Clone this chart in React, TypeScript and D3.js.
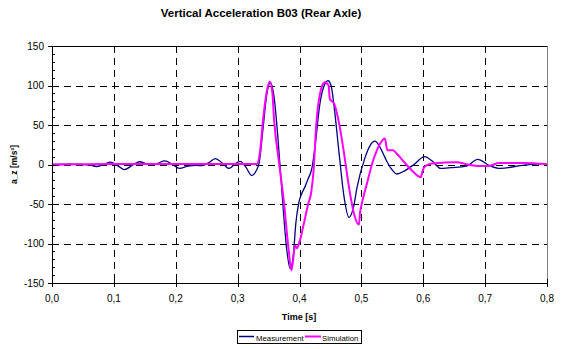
import React from "react";
import * as d3 from "d3";

const W = 575;
const H = 349;

const xTicks = [0, 0.1, 0.2, 0.3, 0.4, 0.5, 0.6, 0.7, 0.8];
const yTicks = [-150, -100, -50, 0, 50, 100, 150];
const yMinorTicks = d3.range(-150, 151, 10);

const measT = [0, 0.03, 0.05, 0.06, 0.072, 0.083, 0.095, 0.107, 0.117, 0.13, 0.142, 0.152, 0.161, 0.171, 0.182, 0.195, 0.206, 0.22, 0.233, 0.243, 0.253, 0.264, 0.275, 0.286, 0.295, 0.304, 0.313, 0.323, 0.33, 0.335, 0.341, 0.347, 0.353, 0.359, 0.365, 0.373, 0.379, 0.385, 0.39, 0.394, 0.399, 0.404, 0.409, 0.414, 0.42, 0.425, 0.433, 0.439, 0.446, 0.451, 0.456, 0.464, 0.472, 0.48, 0.487, 0.493, 0.506, 0.514, 0.522, 0.53, 0.538, 0.548, 0.557, 0.57, 0.585, 0.602, 0.615, 0.628, 0.645, 0.67, 0.688, 0.706, 0.725, 0.76, 0.8];
const measV = [0, 0.3, 0, -0.5, -2.5, 0, 3, -2, -6.5, -1, 3.5, 1, -0.5, 1.5, 4.5, 0, -5, -2, -1, -1.5, 2, 7.5, 2, -5, 0, 4, -3, -14, -8, 3, 45, 88, 104, 85, 35, -49, -105, -132, -115, -75, -48, -36, -28, -18, -5, 22, 77, 98, 106, 100, 73, 14, -41, -67, -55, -29, 9, 24, 29.5, 22, 9, -5, -12, -8, 0, 10, 4, -5, -4, -2, 6.5, -1, -5, -1, 1];

const simT = [0, 0.1, 0.2, 0.3, 0.331, 0.336, 0.341, 0.347, 0.352, 0.356, 0.359, 0.367, 0.375, 0.382, 0.387, 0.393, 0.396, 0.4, 0.407, 0.414, 0.419, 0.423, 0.427, 0.431, 0.435, 0.441, 0.447, 0.449, 0.456, 0.464, 0.472, 0.48, 0.488, 0.496, 0.498, 0.5, 0.509, 0.519, 0.53, 0.538, 0.542, 0.551, 0.558, 0.567, 0.581, 0.596, 0.599, 0.602, 0.612, 0.635, 0.654, 0.672, 0.69, 0.706, 0.722, 0.76, 0.8];
const simV = [0, 0.5, 0.5, 0.5, 0.5, 15, 56, 92, 105, 92, 56, 2, -49, -105, -134, -103, -106, -98, -75, -50, -35, -5, 50, 80, 96, 104, 100, 83, 77, 52, 14, -29, -62, -76, -60, -52, -24, 5, 26, 33, 18, 18, 13, 5, -7, -16, -8, -3, 1, 2.5, 3, 0, -2, -2, 2, 2, 0.5];

const legendLabels = ["Measurement", "Simulation"];
const seriesColors = ["#000080", "#FF00FF"];

export default function App() {
  const x = d3.scaleLinear().domain([0, 0.8]).range([52, 547]);
  const y = d3.scaleLinear().domain([-150, 150]).range([283, 46]);

  const line = d3
    .line<[number, number]>()
    .x((d) => x(d[0]))
    .y((d) => y(d[1]))
    .curve(d3.curveMonotoneX);

  const meas = measT.map((t, i) => [t, measV[i]] as [number, number]);
  const sim = simT.map((t, i) => [t, simV[i]] as [number, number]);

  const font = "Arial, 'Liberation Sans', sans-serif";
  const fmt = (v: number) => v.toFixed(1).replace(".", ",");
  const px = (v: number) => Math.round(v) + 0.5;

  return (
    <svg
      width={W}
      height={H}
      style={{ position: "absolute", left: 0, top: 0, background: "#fff" }}
      fontFamily={font}
    >
      <rect x={0} y={0} width={W} height={H} fill="#fff" />
      <text x={261} y={17} textAnchor="middle" fontSize={11.5} fontWeight="bold">
        Vertical Acceleration B03 (Rear Axle)
      </text>

      {/* plot area border */}
      <rect x={px(x(0))} y={px(y(150))} width={Math.round(x(0.8) - x(0))} height={Math.round(y(-150) - y(150))} fill="none" stroke="#808080" strokeWidth={1} />

      {/* gridlines */}
      {xTicks.slice(1, -1).map((t) => (
        <line key={"gx" + t} x1={px(x(t))} x2={px(x(t))} y1={y(150)} y2={y(-150)} stroke="#000" strokeWidth={1} strokeDasharray="7,5" />
      ))}
      {yTicks.slice(1, -1).map((v) => (
        <line key={"gy" + v} x1={x(0)} x2={x(0.8)} y1={px(y(v))} y2={px(y(v))} stroke="#000" strokeWidth={1} strokeDasharray="7,5" />
      ))}
      <line x1={x(0)} x2={x(0.8)} y1={px(y(150))} y2={px(y(150))} stroke="#000" strokeWidth={1} />

      {/* series */}
      <path d={line(meas) || ""} fill="none" stroke={seriesColors[0]} strokeWidth={1.3} />
      <path d={line(sim) || ""} fill="none" stroke={seriesColors[1]} strokeWidth={2} />

      {/* axes */}
      <line x1={px(x(0))} x2={px(x(0))} y1={y(150)} y2={y(-150)} stroke="#000" strokeWidth={1} />
      <line x1={x(0)} x2={x(0.8)} y1={px(y(-150))} y2={px(y(-150))} stroke="#000" strokeWidth={1} />
      {yMinorTicks.map((v) => (
        <line key={"ym" + v} x1={x(0)} x2={x(0) + 3} y1={px(y(v))} y2={px(y(v))} stroke="#000" strokeWidth={1} />
      ))}
      {yTicks.map((v) => (
        <g key={"yt" + v}>
          <line x1={x(0) - 4} x2={x(0) + 4} y1={px(y(v))} y2={px(y(v))} stroke="#000" strokeWidth={1} />
          <text x={44} y={y(v)} dy="0.35em" textAnchor="end" fontSize={10}>
            {v}
          </text>
        </g>
      ))}
      {xTicks.map((t) => (
        <g key={"xt" + t}>
          <line x1={px(x(t))} x2={px(x(t))} y1={y(-150) - 4} y2={y(-150) + 4} stroke="#000" strokeWidth={1} />
          <text x={x(t)} y={302} textAnchor="middle" fontSize={10}>
            {fmt(t)}
          </text>
        </g>
      ))}

      <text x={299} y={320} textAnchor="middle" fontSize={9} fontWeight="bold">
        Time [s]
      </text>
      <text transform={`translate(17,${y(0)}) rotate(-90)`} textAnchor="middle" fontSize={8.5} fontWeight="bold">
        a_z [m/s²]
      </text>

      {/* legend */}
      <rect x={237.5} y={330.5} width={124} height={13} fill="#fff" stroke="#000" strokeWidth={1} />
      <line x1={239} x2={254} y1={336.5} y2={336.5} stroke={seriesColors[0]} strokeWidth={1.5} />
      <text x={256} y={341} fontSize={7.8}>
        {legendLabels[0]}
      </text>
      <line x1={305} x2={321} y1={336.5} y2={336.5} stroke={seriesColors[1]} strokeWidth={2} />
      <text x={322} y={341} fontSize={7.8}>
        {legendLabels[1]}
      </text>
    </svg>
  );
}
